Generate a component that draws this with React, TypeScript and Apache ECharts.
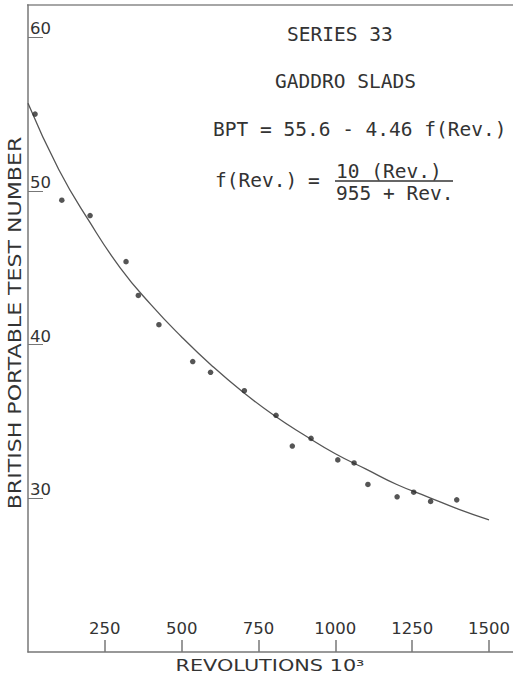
import React, { useEffect, useRef } from 'react';
import * as echarts from 'echarts';

// Observed data points (revolutions x10^3, BPT)
const revolutions = [23, 110, 202, 319, 359, 426, 536, 594, 704, 807, 860, 921, 1008, 1061, 1106, 1201, 1255, 1310, 1395];
const bptValues = [55.0, 49.4, 48.4, 45.4, 43.2, 41.3, 38.9, 38.2, 37.0, 35.4, 33.4, 33.9, 32.5, 32.3, 30.9, 30.1, 30.4, 29.8, 29.9];

// Fitted curve
const curveRevs = [0, 100, 200, 300, 400, 500, 600, 700, 800, 900, 1000, 1100, 1200, 1300, 1400, 1500];
const curveBpt = [55.7, 51.4, 48.0, 45.0, 42.6, 40.5, 38.6, 36.9, 35.4, 34.1, 32.9, 31.9, 30.9, 30.1, 29.3, 28.6];

const xTickValues = [250, 500, 750, 1000, 1250, 1500];
const yTickValues = [30, 40, 50, 60];

const titleLines = ['SERIES 33', 'GADDRO SLADS'];
const equationLine = 'BPT = 55.6 - 4.46 f(Rev.)';
const fractionLeft = 'f(Rev.)';
const fractionNum = '10 (Rev.)';
const fractionDen = '955 + Rev.';

const xTitle = 'REVOLUTIONS 10³';
const yTitle = 'BRITISH PORTABLE TEST NUMBER';

export default function App() {
  const ref = useRef<HTMLDivElement>(null);
  useEffect(() => {
    if (!ref.current) return;
    const chart = echarts.init(ref.current, null, { renderer: 'svg' });
    const mono = '"DejaVu Sans Mono", monospace';
    const sans = '"DejaVu Sans", sans-serif';
    const ink = '#333';
    const axisColor = '#777';
    chart.setOption({
      animation: false,
      backgroundColor: '#fff',
      grid: { left: 28, right: 0, top: 5, bottom: 25 },
      xAxis: {
        type: 'value',
        min: 0,
        max: 1578,
        axisLine: { show: true, lineStyle: { color: axisColor, width: 1.5 } },
        axisTick: {
          show: true,
          inside: true,
          length: 12,
          customValues: xTickValues,
          lineStyle: { color: axisColor, width: 1.5 },
        },
        axisLabel: {
          inside: true,
          margin: 15,
          customValues: xTickValues,
          formatter: (v: number) => String(v),
          fontFamily: sans,
          fontSize: 16.5,
          color: ink,
        },
        splitLine: { show: false },
      },
      yAxis: {
        type: 'value',
        min: 20,
        max: 62.1,
        axisLine: { show: true, lineStyle: { color: axisColor, width: 1.5 } },
        axisTick: {
          show: true,
          inside: true,
          length: 15,
          customValues: yTickValues,
          lineStyle: { color: axisColor, width: 1 },
        },
        axisLabel: {
          inside: true,
          margin: 2,
          customValues: yTickValues,
          formatter: (v: number) => String(v),
          verticalAlign: 'bottom',
          align: 'left',
          fontFamily: sans,
          fontSize: 16.5,
          color: ink,
        },
        splitLine: { show: false },
      },
      series: [
        {
          type: 'line',
          data: curveRevs.map((r, i) => [r, curveBpt[i]]),
          smooth: true,
          showSymbol: false,
          lineStyle: { color: '#555', width: 1.3 },
          z: 2,
        },
        {
          type: 'scatter',
          data: revolutions.map((r, i) => [r, bptValues[i]]),
          symbolSize: 5.5,
          itemStyle: { color: '#2a2a2a' },
          z: 3,
        },
      ],
      graphic: [
        { type: 'line', shape: { x1: 27, y1: 5, x2: 513, y2: 5 }, style: { stroke: '#888', lineWidth: 1.5 } },
        {
          type: 'text', x: 15, y: 323, rotation: Math.PI / 2, scaleX: 1.3, scaleY: 1,
          style: { text: yTitle, font: `17px ${sans}`, fill: ink, align: 'center', verticalAlign: 'middle' },
        },
        {
          type: 'text', x: 270, y: 665, scaleX: 1.3, scaleY: 1,
          style: { text: xTitle, font: `16px ${sans}`, fill: ink, align: 'center', verticalAlign: 'middle' },
        },
        {
          type: 'text', x: 287, y: 34,
          style: { text: titleLines[0], font: `19.5px ${mono}`, fill: ink, align: 'left', verticalAlign: 'middle' },
        },
        {
          type: 'text', x: 275, y: 81,
          style: { text: titleLines[1], font: `19.5px ${mono}`, fill: ink, align: 'left', verticalAlign: 'middle' },
        },
        {
          type: 'text', x: 213, y: 129,
          style: { text: equationLine, font: `19.5px ${mono}`, fill: ink, align: 'left', verticalAlign: 'middle' },
        },
        {
          type: 'text', x: 215, y: 180,
          style: { text: fractionLeft, font: `19.5px ${mono}`, fill: ink, align: 'left', verticalAlign: 'middle' },
        },
        {
          type: 'text', x: 308, y: 180,
          style: { text: '=', font: `19.5px ${mono}`, fill: ink, align: 'left', verticalAlign: 'middle' },
        },
        {
          type: 'text', x: 336, y: 171,
          style: { text: fractionNum, font: `19.5px ${mono}`, fill: ink, align: 'left', verticalAlign: 'middle' },
        },
        { type: 'line', shape: { x1: 335, y1: 181, x2: 453, y2: 181 }, style: { stroke: ink, lineWidth: 1.3 } },
        {
          type: 'text', x: 336, y: 193,
          style: { text: fractionDen, font: `19.5px ${mono}`, fill: ink, align: 'left', verticalAlign: 'middle' },
        },
      ],
    });
    return () => chart.dispose();
  }, []);
  return (
    <div
      ref={ref}
      style={{ position: 'fixed', left: 0, top: 0, width: 513, height: 677 }}
    />
  );
}
